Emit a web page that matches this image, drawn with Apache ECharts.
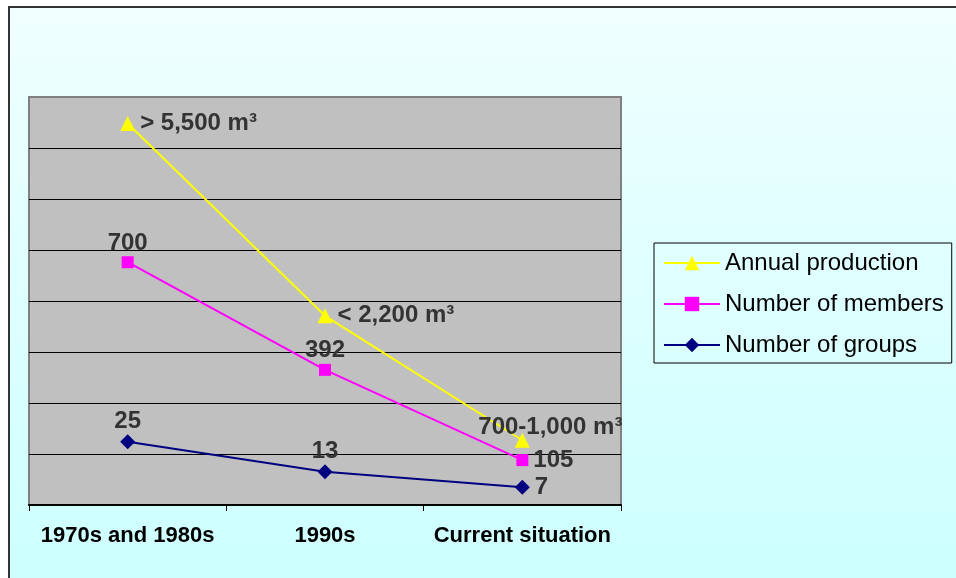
<!DOCTYPE html>
<html>
<head>
<meta charset="utf-8">
<script src="https://cdn.jsdelivr.net/npm/echarts@6/dist/echarts.min.js"></script>
<style>
html,body{margin:0;padding:0;background:#fff;}
#main{width:956px;height:578px;}
</style>
</head>
<body>
<div id="main"></div>
<script>
const categories = ['1970s and 1980s', '1990s', 'Current situation'];
const seriesNames = ['Annual production', 'Number of members', 'Number of groups'];
const productionValues = [7.48, 3.71, 1.27];
const productionLabels = ['> 5,500 m³', '< 2,200 m³', '700-1,000 m³'];
const membersValues = [4.76, 2.65, 0.88];
const membersLabels = ['700', '392', '105'];
const groupsValues = [1.24, 0.65, 0.35];
const groupsLabels = ['25', '13', '7'];

const chart = echarts.init(document.getElementById('main'), null, {renderer: 'canvas'});
const FONT = '"Liberation Sans", Arial, sans-serif';
const labelBase = {
  show: true, fontFamily: FONT, fontWeight: 'bold', fontSize: 24, color: '#333333'
};
function makeData(values, labels, placements) {
  return values.map((v, i) => ({
    value: v,
    label: Object.assign({}, labelBase, {formatter: labels[i]}, placements[i])
  }));
}
const posTop = {position: 'top', distance: 1};
const posRight = {position: 'right', distance: 5};

chart.setOption({
  animation: false,
  backgroundColor: '#ffffff',
  graphic: [{
    type: 'rect', z: -100, silent: true,
    shape: {x: 9, y: 7, width: 960, height: 580},
    style: {
      fill: new echarts.graphic.LinearGradient(0, 0, 0, 1, [
        {offset: 0, color: '#f0ffff'}, {offset: 1, color: '#ccffff'}
      ]),
      stroke: '#333333', lineWidth: 2
    }
  }],
  grid: {
    left: 29, right: 335, top: 97, bottom: 73,
    show: true, backgroundColor: '#c0c0c0', borderColor: '#808080', borderWidth: 2
  },
  legend: {
    orient: 'vertical', left: 654, top: 243,
    padding: [8, 8, 6, 9], itemGap: 17, itemWidth: 56, itemHeight: 18,
    borderColor: '#000000', borderWidth: 1, backgroundColor: 'transparent',
    textStyle: {fontFamily: FONT, fontSize: 24, lineHeight: 24, color: '#000000'},
    data: seriesNames
  },
  xAxis: {
    type: 'category', data: categories, boundaryGap: true,
    axisLine: {show: true, lineStyle: {color: '#000000', width: 2}},
    axisTick: {show: true, interval: 0, length: 6, lineStyle: {color: '#000000', width: 1}},
    axisLabel: {interval: 0, margin: 20, fontFamily: FONT, fontWeight: 'bold', fontSize: 22, color: '#000000'},
    splitLine: {show: false}
  },
  yAxis: {
    type: 'value', min: 0, max: 8, interval: 1,
    axisLine: {show: false}, axisTick: {show: false}, axisLabel: {show: false},
    splitLine: {show: true, showMaxLine: false, lineStyle: {color: '#000000', width: 1}}
  },
  series: [
    {
      name: seriesNames[0], type: 'line', symbol: 'triangle', symbolSize: 15,
      itemStyle: {color: '#ffff00'}, lineStyle: {color: '#ffff00', width: 2},
      z: 4,
      data: makeData(productionValues, productionLabels, [posRight, posRight, {position: 'top', distance: 2, offset: [28, 9]}])
    },
    {
      name: seriesNames[1], type: 'line', symbol: 'rect', symbolSize: 12,
      itemStyle: {color: '#ff00ff'}, lineStyle: {color: '#ff00ff', width: 2},
      z: 3,
      data: makeData(membersValues, membersLabels, [posTop, posTop, posRight])
    },
    {
      name: seriesNames[2], type: 'line', symbol: 'diamond', symbolSize: 15,
      itemStyle: {color: '#000080'}, lineStyle: {color: '#000080', width: 2},
      z: 2,
      data: makeData(groupsValues, groupsLabels, [posTop, posTop, posRight])
    }
  ]
});
</script>
</body>
</html>
